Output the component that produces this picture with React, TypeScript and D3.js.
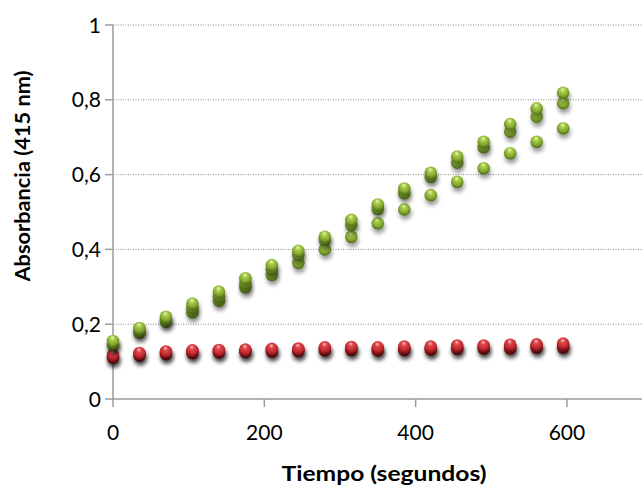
import React from "react";
import * as d3 from "d3";

const times = [0, 35, 70, 105, 140, 175, 210, 245, 280, 315, 350, 385, 420, 455, 490, 525, 560, 595];

const red1 = [0.118, 0.123, 0.127, 0.130, 0.131, 0.132, 0.134, 0.135, 0.138, 0.139, 0.138, 0.140, 0.140, 0.143, 0.143, 0.145, 0.146, 0.148];
const red2 = [0.113, 0.120, 0.124, 0.127, 0.128, 0.129, 0.131, 0.131, 0.134, 0.135, 0.133, 0.135, 0.135, 0.138, 0.139, 0.139, 0.142, 0.142];
const red3 = [0.110, 0.116, 0.120, 0.123, 0.125, 0.126, 0.127, 0.128, 0.130, 0.131, 0.130, 0.131, 0.132, 0.134, 0.135, 0.135, 0.137, 0.137];

const green1 = [0.155, 0.19, 0.22, 0.255, 0.287, 0.323, 0.358, 0.396, 0.434, 0.479, 0.52, 0.563, 0.605, 0.648, 0.688, 0.735, 0.777, 0.819];
const green2 = [0.148, 0.183, 0.212, 0.243, 0.274, 0.309, 0.347, 0.385, 0.425, 0.465, 0.508, 0.55, 0.594, 0.632, 0.673, 0.715, 0.755, 0.791];
const green3 = [0.145, 0.177, 0.207, 0.232, 0.263, 0.299, 0.332, 0.364, 0.40, 0.434, 0.47, 0.507, 0.545, 0.581, 0.617, 0.657, 0.688, 0.724];

const xTicks = [0, 200, 400, 600];
const yTicks = [0, 0.2, 0.4, 0.6, 0.8, 1];

const xTitle = "Tiempo (segundos)";
const yTitle = "Absorbancia (415 nm)";

const W = 642;
const H = 485;

export default function App() {
  const x = d3.scaleLinear().domain([0, 700]).range([113, 642.6]);
  const y = d3.scaleLinear().domain([0, 1]).range([399, 25]);
  const fmt = (v: number) => String(v).replace(".", ",");

  const series = [
    { vals: red3, grad: "gRed" },
    { vals: red2, grad: "gRed" },
    { vals: red1, grad: "gRed" },
    { vals: green3, grad: "gGreen" },
    { vals: green2, grad: "gGreen" },
    { vals: green1, grad: "gGreen" },
  ];
  const font = "Lato, 'Open Sans', sans-serif";
  const r = 6.3;

  return (
    <div style={{ position: "absolute", left: 0, top: 0 }}>
      <svg width={W} height={H} style={{ display: "block", background: "#fff" }}>
        <defs>
          <radialGradient id="gGreen" cx="50%" cy="40%" r="60%" fx="45%" fy="22%">
            <stop offset="0%" stopColor="#eef8c0" />
            <stop offset="30%" stopColor="#a9cd4c" />
            <stop offset="72%" stopColor="#7ea52e" />
            <stop offset="100%" stopColor="#4a6812" />
          </radialGradient>
          <radialGradient id="gRed" cx="50%" cy="40%" r="60%" fx="45%" fy="22%">
            <stop offset="0%" stopColor="#fbc4c4" />
            <stop offset="30%" stopColor="#de474b" />
            <stop offset="72%" stopColor="#c02a2e" />
            <stop offset="100%" stopColor="#7a1014" />
          </radialGradient>
          <filter id="shadow" x="-50%" y="-50%" width="200%" height="220%">
            <feGaussianBlur in="SourceAlpha" stdDeviation="2.2" />
            <feOffset dx="1" dy="4" result="ob" />
            <feComponentTransfer>
              <feFuncA type="linear" slope="0.4" />
            </feComponentTransfer>
            <feMerge>
              <feMergeNode />
              <feMergeNode in="SourceGraphic" />
            </feMerge>
          </filter>
        </defs>

        {/* gridlines */}
        {yTicks.filter((t) => t > 0).map((t) => (
          <line key={"g" + t} x1={x(0)} x2={W} y1={y(t)} y2={y(t)}
            stroke="#8a8a8a" strokeWidth={1} strokeDasharray="1,1.5" />
        ))}

        {/* axes */}
        <line x1={x(0)} x2={x(0)} y1={y(1)} y2={y(0)} stroke="#9a9a9a" strokeWidth={1.5} />
        <line x1={x(0)} x2={W} y1={y(0)} y2={y(0)} stroke="#9a9a9a" strokeWidth={1.5} />
        {yTicks.map((t) => (
          <line key={"yt" + t} x1={x(0) - 8} x2={x(0)} y1={y(t)} y2={y(t)} stroke="#9a9a9a" strokeWidth={1.5} />
        ))}
        {xTicks.map((t) => (
          <line key={"xt" + t} x1={x(t)} x2={x(t)} y1={y(0)} y2={y(0) + 8} stroke="#9a9a9a" strokeWidth={1.5} />
        ))}

        {/* tick labels */}
        {yTicks.map((t) => (
          <text key={"yl" + t} x={101} y={y(t)} dy="0.36em" textAnchor="end"
            fontFamily={font} fontSize={21} fill="#000">{fmt(t)}</text>
        ))}
        {xTicks.map((t) => (
          <text key={"xl" + t} x={x(t)} y={440} textAnchor="middle"
            fontFamily={font} fontSize={21} fill="#000">{t}</text>
        ))}

        {/* titles */}
        <text x={384} y={481} textAnchor="middle" fontFamily={font} fontWeight="bold" fontSize={21}
          textLength={205} lengthAdjust="spacingAndGlyphs" fill="#000">{xTitle}</text>
        <text transform={`translate(30,176) rotate(-90)`} textAnchor="middle" fontFamily={font} fontWeight="bold" fontSize={21}
          textLength={211} lengthAdjust="spacingAndGlyphs" fill="#000">{yTitle}</text>

        {/* points */}
        {series.map((s, si) => (
          <g key={"s" + si} filter="url(#shadow)">
            {s.vals.map((v, i) => (
              <circle key={i} cx={x(times[i])} cy={y(v)} r={r} fill={`url(#${s.grad})`} />
            ))}
          </g>
        ))}
      </svg>
    </div>
  );
}
